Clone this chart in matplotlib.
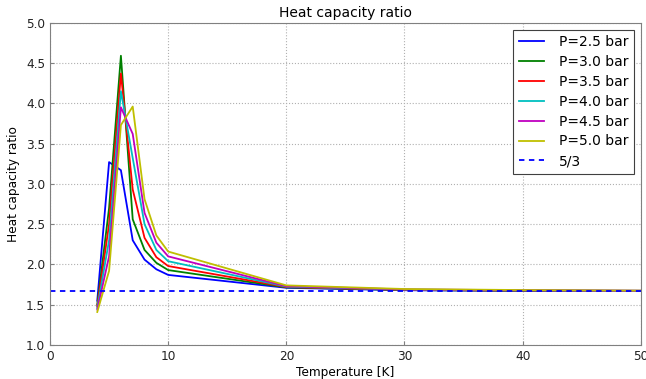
import matplotlib
matplotlib.use("Agg")
import matplotlib.pyplot as plt

temperature = [4, 5, 6, 7, 8, 9, 10, 20, 30, 40, 50]

pressures = ["2.5", "3.0", "3.5", "4.0", "4.5", "5.0"]
colors = ["#0000ff", "#008000", "#ff0000", "#00bfbf", "#bf00bf", "#bfbf00"]

gamma_25 = [1.55, 3.27, 3.17, 2.30, 2.06, 1.94, 1.87, 1.71, 1.68, 1.672, 1.67]
gamma_30 = [1.50, 2.70, 4.59, 2.56, 2.18, 2.02, 1.93, 1.715, 1.682, 1.674, 1.671]
gamma_35 = [1.48, 2.50, 4.37, 2.93, 2.33, 2.09, 1.98, 1.72, 1.685, 1.676, 1.672]
gamma_40 = [1.46, 2.30, 4.15, 3.32, 2.50, 2.18, 2.04, 1.725, 1.688, 1.678, 1.673]
gamma_45 = [1.44, 2.10, 3.95, 3.62, 2.64, 2.27, 2.10, 1.73, 1.69, 1.68, 1.674]
gamma_50 = [1.41, 1.92, 3.73, 3.96, 2.81, 2.36, 2.16, 1.74, 1.695, 1.682, 1.675]

series = [gamma_25, gamma_30, gamma_35, gamma_40, gamma_45, gamma_50]

fig = plt.figure(figsize=(6.46, 3.79), dpi=100)
ax = fig.add_axes([0.0774, 0.0897, 0.9146, 0.8503])

for p, vals, c in zip(pressures, series, colors):
    ax.plot(temperature, vals, color=c, linewidth=1.3, label=f"P={p} bar")

ax.axhline(5.0 / 3.0, color="#0000ff", linewidth=1.3, linestyle=(0, (3, 2.5)), label="5/3")

ax.set_xlim(0, 50)
ax.set_ylim(1.0, 5.0)
ax.set_xticks([0, 10, 20, 30, 40, 50])
ax.set_yticks([1.0, 1.5, 2.0, 2.5, 3.0, 3.5, 4.0, 4.5, 5.0])
ax.set_yticklabels([f"{v:.1f}" for v in ax.get_yticks()])

ax.grid(True, color="#b0b0b0", linestyle=":", linewidth=0.8)
ax.tick_params(direction="in", length=3, color="#808080", labelsize=8.7, labelcolor="#222222")
for s in ax.spines.values():
    s.set_color("#808080")

ax.set_title("Heat capacity ratio", fontsize=10, pad=4)
ax.set_xlabel("Temperature [K]", fontsize=8.7, labelpad=2)
ax.set_ylabel("Heat capacity ratio", fontsize=8.7, labelpad=4)

leg = ax.legend(loc="upper right", fontsize=10, fancybox=False, framealpha=1,
                handlelength=1.8, handletextpad=1.1, borderaxespad=0.5, labelspacing=0.42)
leg.get_frame().set_edgecolor("#404040")
leg.get_frame().set_linewidth(0.8)

fig.savefig("out.png", dpi=100)
plt.close(fig)
